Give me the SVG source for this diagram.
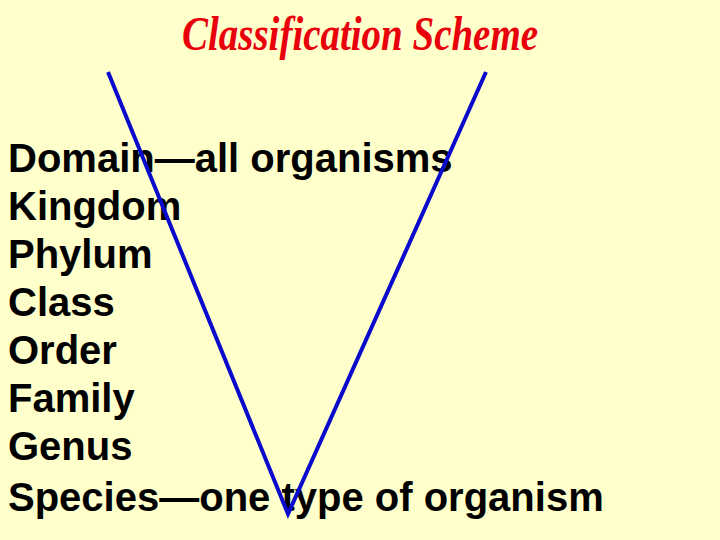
<svg xmlns="http://www.w3.org/2000/svg" width="720" height="540" viewBox="0 0 720 540">
<style>
.title{font-family:"Liberation Serif","DejaVu Serif",serif;font-style:italic;font-weight:bold;font-size:48px;fill:#E8000B}
.item{font-family:"Liberation Sans",Arial,sans-serif;font-weight:bold;font-size:40px;fill:#000000}
.v{stroke:#0A0ACC;stroke-width:4;fill:none;stroke-linecap:butt;stroke-linejoin:miter}
</style>
<rect x="0" y="0" width="720" height="540" fill="#FFFFCC"/>
<g id="title">
<text class="title" x="360" y="50" text-anchor="middle" textLength="356" lengthAdjust="spacingAndGlyphs">Classification Scheme</text>
</g>
<g id="list">
<text class="item" x="8" y="172">Domain—all organisms</text>
<text class="item" x="8" y="220">Kingdom</text>
<text class="item" x="8" y="268">Phylum</text>
<text class="item" x="8" y="316">Class</text>
<text class="item" x="8" y="364">Order</text>
<text class="item" x="8" y="412">Family</text>
<text class="item" x="8" y="460">Genus</text>
<text class="item" x="8" y="511">Species—one type of organism</text>
</g>
<g id="connectors">
<polyline class="v" points="108,72 288,514 486,72"/>
</g>
</svg>
